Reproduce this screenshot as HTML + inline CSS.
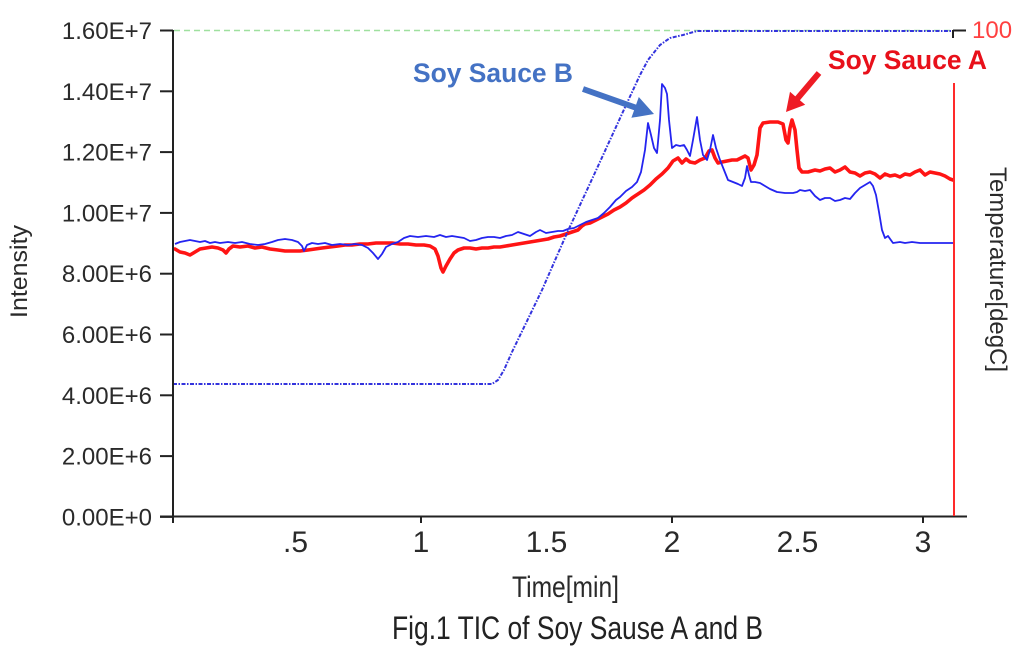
<!DOCTYPE html>
<html>
<head>
<meta charset="utf-8">
<style>
  html,body{margin:0;padding:0;background:#fff;}
  svg{display:block;}
  text{font-family:"Liberation Sans","Noto Sans CJK JP",sans-serif;}
</style>
</head>
<body>
<svg width="1024" height="652" viewBox="0 0 1024 652" xmlns="http://www.w3.org/2000/svg">
  <rect width="1024" height="652" fill="#fff"/>

  <!-- green dashed top line -->
  <line x1="174" y1="30.5" x2="953" y2="30.5" stroke="#9fe09f" stroke-width="1.6" stroke-dasharray="6,4"/>

  <!-- red TIC (Soy Sauce A) -->
  <polyline fill="none" stroke="#ff1414" stroke-width="3.6" stroke-linejoin="round" stroke-linecap="round"
    points="175,249 180,252 185,253 190,255 195,252 200,249 206,248 212,247 218,248 223,250 226,253 229,249 233,246 240,247 248,246 255,248 262,247 270,249 278,250 285,251 292,251 300,251 308,250 315,249 322,248 330,247 338,246 345,245 352,245 360,244 368,244 376,243 384,243 392,243 400,244 408,244 416,245 424,245 430,246 435,249 438,256 441,268 443,272 446,266 450,259 454,253 458,250 464,248 470,248 476,249 482,248 488,248 494,247 500,247 506,246 512,245 518,244 524,243 530,242 536,241 542,240 548,239 554,237 560,236 566,234 572,232 578,230 582,226 585,224 590,223 596,220 602,217 608,214 614,210 620,207 626,203 632,198 638,194 644,190 650,185 656,179 662,174 668,168 673,161 678,158 682,163 686,159 690,162 695,163 700,160 705,158 709,151 712,150 715,158 718,163 722,162 727,161 732,160 737,160 741,158 745,156 748,158 751,170 754,165 757,155 760,128 763,123 770,122 778,122 783,124 786,140 788,143 790,128 792,120 795,130 797,150 799,168 802,172 808,172 815,170 820,171 825,169 830,168 835,172 840,170 845,167 850,172 855,173 860,176 865,173 870,172 875,174 880,178 885,174 890,176 895,175 900,177 905,174 910,175 915,172 920,170 925,175 930,172 935,173 940,174 945,176 950,179 953,180"/>

  <!-- blue TIC (Soy Sauce B) -->
  <polyline fill="none" stroke="#2424f0" stroke-width="1.8" stroke-linejoin="round"
    points="175,244 180,242 185,241 190,240 195,241 200,242 205,241 210,243 215,242 220,243 228,242 235,243 242,242 250,244 258,245 265,244 272,242 278,240 285,239 292,240 298,242 302,246 304,251 307,245 312,243 318,244 325,243 332,245 340,244 348,245 355,244 362,245 368,248 373,253 378,259 382,254 386,247 392,244 398,242 404,238 410,236 418,237 426,236 434,237 440,235 446,237 452,236 458,237 464,238 470,241 476,240 482,238 488,237 494,237 500,238 506,236 512,235 518,232 524,234 530,236 536,232 540,230 546,233 552,232 558,231 563,231 568,229 574,228 580,225 586,222 592,220 598,218 604,213 610,207 616,200 620,197 626,191 632,187 637,182 641,172 645,150 648,123 651,135 654,148 657,153 660,120 662,84 665,88 667,94 669,120 672,148 676,145 680,146 684,145 687,150 690,156 693,140 697,117 700,140 703,155 707,160 710,150 713,135 716,148 720,160 724,170 728,180 733,182 738,184 742,186 745,178 747,166 749,175 751,182 755,182 760,183 765,186 770,189 777,192 785,193 793,193 797,192 800,190 805,191 810,190 815,196 820,200 825,198 830,198 835,201 840,200 845,198 850,199 855,193 860,188 865,185 870,182 873,186 876,195 879,212 882,230 885,238 888,236 893,243 900,242 905,243 912,242 920,243 930,243 940,243 953,243"/>

  <!-- temperature dotted line -->
  <polyline fill="none" stroke="#3333dd" stroke-width="2" stroke-dasharray="4,1.5,1.5,1.5"
    points="173,384 492,384 498,380 504,370 512,352 542,290 567,233 593,177 627,103 640,75 648,60 660,45 670,38 683,35 697,31 953,31"/>

  <!-- axes -->
  <line x1="173" y1="30" x2="173" y2="523" stroke="#222" stroke-width="2"/>
  <line x1="160" y1="516.5" x2="967" y2="516.5" stroke="#222" stroke-width="2"/>
  <g stroke="#222" stroke-width="2">
    <line x1="160" y1="516.9" x2="173" y2="516.9"/>
    <line x1="160" y1="456.1" x2="173" y2="456.1"/>
    <line x1="160" y1="395.3" x2="173" y2="395.3"/>
    <line x1="160" y1="334.5" x2="173" y2="334.5"/>
    <line x1="160" y1="273.7" x2="173" y2="273.7"/>
    <line x1="160" y1="212.9" x2="173" y2="212.9"/>
    <line x1="160" y1="152.1" x2="173" y2="152.1"/>
    <line x1="160" y1="91.3" x2="173" y2="91.3"/>
    <line x1="160" y1="30.5" x2="173" y2="30.5"/>
    <line x1="421" y1="516" x2="421" y2="523"/>
    <line x1="672" y1="516" x2="672" y2="523"/>
    <line x1="923" y1="516" x2="923" y2="523"/>
    <line x1="953" y1="30.5" x2="966" y2="30.5"/>
    <line x1="953" y1="30" x2="953" y2="38"/>
  </g>
  <!-- right red axis -->
  <line x1="954" y1="83" x2="954" y2="516" stroke="#ff2a2a" stroke-width="2"/>

  <!-- y labels -->
  <g font-size="24" fill="#2a2a2a" text-anchor="end">
    <text x="152" y="525.4">0.00E+0</text>
    <text x="152" y="464.6">2.00E+6</text>
    <text x="152" y="403.8">4.00E+6</text>
    <text x="152" y="343">6.00E+6</text>
    <text x="152" y="282.2">8.00E+6</text>
    <text x="152" y="221.4">1.00E+7</text>
    <text x="152" y="160.6">1.20E+7</text>
    <text x="152" y="99.8">1.40E+7</text>
    <text x="152" y="39">1.60E+7</text>
  </g>

  <!-- x labels -->
  <g font-size="30" fill="#2a2a2a" text-anchor="middle">
    <text x="295.5" y="552">.5</text>
    <text x="421" y="552">1</text>
    <text x="546.5" y="552">1.5</text>
    <text x="672" y="552">2</text>
    <text x="797.5" y="552">2.5</text>
    <text x="923" y="552">3</text>
  </g>

  <!-- axis titles -->
  <text x="512" y="597" font-size="30" fill="#2a2a2a" textLength="107" lengthAdjust="spacingAndGlyphs">Time[min]</text>
  <text transform="translate(27,271.5) rotate(-90)" font-size="24" fill="#2a2a2a" text-anchor="middle" textLength="93" lengthAdjust="spacingAndGlyphs">Intensity</text>
  <text transform="translate(990,269.5) rotate(90)" font-size="24" fill="#2a2a2a" text-anchor="middle" textLength="205" lengthAdjust="spacingAndGlyphs">Temperature[degC]</text>
  <text x="972" y="38" font-size="24" fill="#ff4040">100</text>

  <!-- annotations -->
  <text x="413" y="82" font-size="27" font-weight="bold" fill="#4472c4" textLength="160" lengthAdjust="spacingAndGlyphs">Soy Sauce B</text>
  <text x="828" y="69" font-size="27" font-weight="bold" fill="#e8101a" textLength="159" lengthAdjust="spacingAndGlyphs">Soy Sauce A</text>
  <polygon fill="#4472c4" points="584.0,86.2 636.1,104.6 638.8,97.0 654,114 631.4,117.8 634.1,110.2 582.0,91.8"/>
  <polygon fill="#ee1c25" points="816.7,71.1 795.3,96.4 790.0,91.8 786,112 805.2,104.8 799.9,100.2 821.3,74.9"/>

  <!-- caption -->
  <text x="392" y="639" font-size="32" fill="#222" textLength="371" lengthAdjust="spacingAndGlyphs">Fig.1 TIC of Soy Sause A and B</text>
</svg>
</body>
</html>
